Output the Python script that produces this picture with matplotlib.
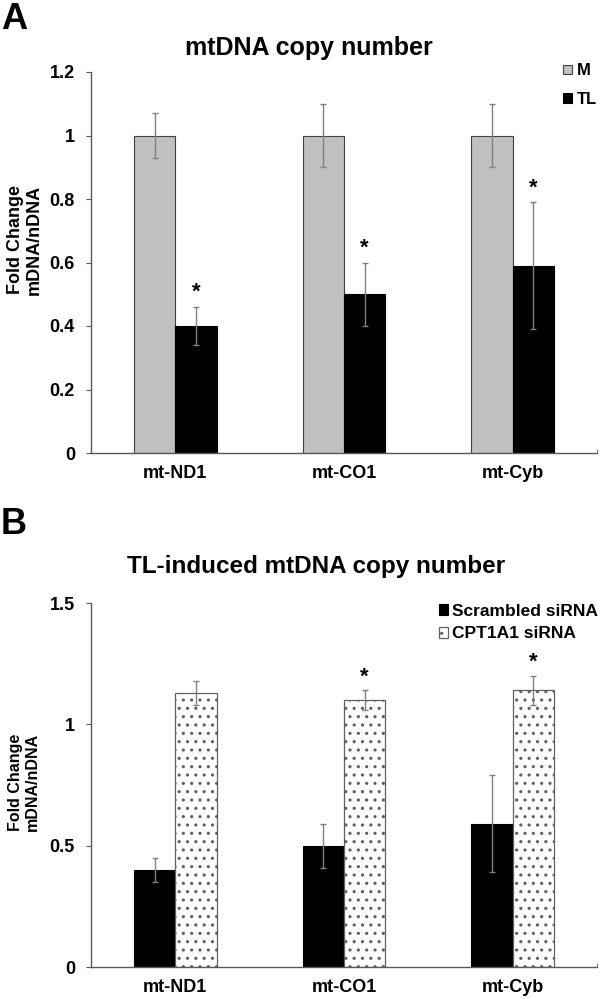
import matplotlib
matplotlib.use("Agg")
import matplotlib.pyplot as plt
import numpy as np

plt.rcParams['font.family'] = ['Liberation Sans', 'DejaVu Sans']
plt.rcParams['hatch.linewidth'] = 1.1
plt.rcParams['hatch.color'] = '#101010'

categories = ["mt-ND1", "mt-CO1", "mt-Cyb"]

# Panel A
a_M = [1.0, 1.0, 1.0]
a_M_err = [0.07, 0.10, 0.10]
a_TL = [0.40, 0.50, 0.59]
a_TL_err = [0.06, 0.10, 0.20]
a_TL_star = [True, True, True]

# Panel B
b_scr = [0.40, 0.50, 0.59]
b_scr_err = [0.05, 0.09, 0.20]
b_cpt = [1.13, 1.10, 1.14]
b_cpt_err = [0.05, 0.04, 0.06]
b_cpt_star = [False, True, True]

W, H = 600, 999
fig = plt.figure(figsize=(W / 100, H / 100), dpi=100)

def fx(px):
    return px / W

def fy(py):
    return 1 - py / H

spine_col = '#5a5a5a'
err_col = '#808080'
w = 0.245
x = np.arange(len(categories))

def style(ax, ymax, yticks, yticklabels):
    ax.set_xlim(-0.5, 2.5)
    ax.set_ylim(0, ymax)
    for s in ['top', 'right']:
        ax.spines[s].set_visible(False)
    for s in ['left', 'bottom']:
        ax.spines[s].set_color(spine_col)
        ax.spines[s].set_linewidth(1.0)
    ax.set_yticks(yticks)
    ax.set_yticklabels(yticklabels, fontsize=13, fontweight='bold')
    ax.tick_params(axis='y', direction='out', length=3.6, color=spine_col, pad=8)
    ax.set_xticks(x)
    ax.set_xticklabels(categories, fontsize=13, fontweight='bold')
    ax.tick_params(axis='x', length=0, pad=9)
    ax.set_xticks([2.5], minor=True)
    ax.tick_params(axis='x', which='minor', direction='in', length=3, color=spine_col)

# ---- Panel A ----
axA = fig.add_axes([fx(91), fy(453), fx(597) - fx(91), fy(72) - fy(453)])
axA.bar(x - w/2, a_M, w, color='#c0c0c0', edgecolor='#404040', linewidth=0.8, label='M')
axA.bar(x + w/2, a_TL, w, color='black', edgecolor='black', linewidth=0.8, label='TL')
axA.errorbar(x - w/2, a_M, yerr=a_M_err, fmt='none', ecolor=err_col, elinewidth=1, capsize=2.5)
axA.errorbar(x + w/2, a_TL, yerr=a_TL_err, fmt='none', ecolor=err_col, elinewidth=1, capsize=2.5)
for i in range(len(categories)):
    if a_TL_star[i]:
        axA.text(x[i] + w/2, a_TL[i] + a_TL_err[i] + 0.012, '*', ha='center', va='bottom',
                 fontsize=16, fontweight='bold')
style(axA, 1.2, [0, 0.2, 0.4, 0.6, 0.8, 1.0, 1.2], ['0', '0.2', '0.4', '0.6', '0.8', '1', '1.2'])
axA.legend(loc='upper left', bbox_to_anchor=(fx(555), fy(55)), bbox_transform=fig.transFigure,
           frameon=False, borderpad=0, handlelength=0.5, handleheight=0.5, handletextpad=0.3,
           labelspacing=0.8, prop={'weight': 'bold', 'size': 12})
fig.text(fx(309), fy(55), "mtDNA copy number", fontsize=18, fontweight='bold',
         ha='center', va='baseline')
fig.text(fx(25), fy(240), "Fold Change\nmDNA/nDNA", fontsize=13, fontweight='bold',
         rotation=90, ha='center', va='center', linespacing=1.1)
fig.text(fx(1), fy(29), "A", fontsize=26, fontweight='bold', ha='left', va='baseline')

# ---- Panel B ----
axB = fig.add_axes([fx(91), fy(967), fx(597) - fx(91), fy(603) - fy(967)])
axB.bar(x - w/2, b_scr, w, color='black', edgecolor='black', linewidth=0.8, label='Scrambled siRNA')
axB.bar(x + w/2, b_cpt, w, color='white', edgecolor='#606060', linewidth=0.9, hatch='..',
        label='CPT1A1 siRNA')
axB.errorbar(x - w/2, b_scr, yerr=b_scr_err, fmt='none', ecolor=err_col, elinewidth=1, capsize=2.5)
axB.errorbar(x + w/2, b_cpt, yerr=b_cpt_err, fmt='none', ecolor=err_col, elinewidth=1, capsize=2.5)
for i in range(len(categories)):
    if b_cpt_star[i]:
        axB.text(x[i] + w/2, b_cpt[i] + b_cpt_err[i] + 0.012, '*', ha='center', va='bottom',
                 fontsize=16, fontweight='bold')
style(axB, 1.5, [0, 0.5, 1.0, 1.5], ['0', '0.5', '1', '1.5'])
axB.legend(loc='upper left', bbox_to_anchor=(fx(430), fy(595)), bbox_transform=fig.transFigure,
           frameon=False, borderpad=0, handlelength=0.55, handleheight=0.55, handletextpad=0.2,
           labelspacing=0.45, prop={'weight': 'bold', 'size': 12.5})
fig.text(fx(316), fy(573), "TL-induced mtDNA copy number", fontsize=17.5, fontweight='bold',
         ha='center', va='baseline')
fig.text(fx(24), fy(782), "Fold Change\nmDNA/nDNA", fontsize=11.5, fontweight='bold',
         rotation=90, ha='center', va='center', linespacing=1.1)
fig.text(fx(1), fy(534), "B", fontsize=26, fontweight='bold', ha='left', va='baseline')

fig.savefig("out.png", dpi=100)
